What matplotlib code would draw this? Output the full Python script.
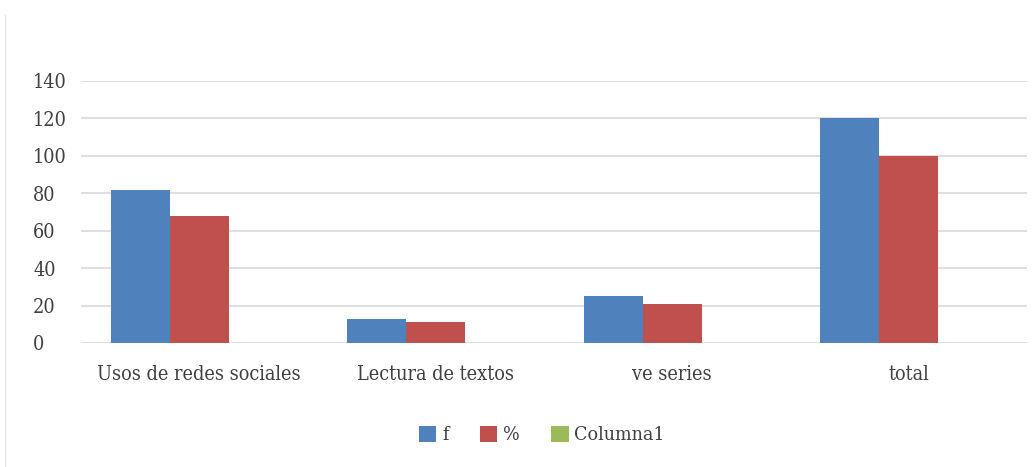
import numpy as np
import matplotlib
matplotlib.use('Agg')
import matplotlib.pyplot as plt
from matplotlib.lines import Line2D

categories = ['Usos de redes sociales', 'Lectura de textos', 've series', 'total']
f_values = [82, 13, 25, 120]
pct_values = [68, 11, 21, 100]
col1_values = [0, 0, 0, 0]
series_names = ['f', '%', 'Columna1']
colors = ['#4F81BD', '#C0504D', '#9BBB59']
yticks = [0, 20, 40, 60, 80, 100, 120, 140]

plt.rcParams['font.family'] = 'DejaVu Serif'

fig = plt.figure(figsize=(10.36, 4.67), dpi=100)
ax = fig.add_axes([81 / 1036, 1 - 343 / 467, (1027 - 81) / 1036, (343 - 81) / 467])

x = np.arange(len(categories))
width = 0.25
for k, vals in enumerate([f_values, pct_values, col1_values]):
    ax.bar(x + (k - 1) * width, vals, width, color=colors[k], label=series_names[k],
           zorder=3)

ax.set_xlim(-0.5, len(categories) - 0.5)
ax.set_ylim(0, 140)
ax.set_yticks(yticks)
ax.set_xticks(x)
ax.set_xticklabels(categories, fontsize=14.2, color='#404040', fontstretch='condensed')
ax.set_yticklabels([str(t) for t in yticks], fontsize=14.2, color='#404040',
                   fontstretch='condensed', ha='left')
ax.tick_params(axis='x', length=0, pad=16)
ax.tick_params(axis='y', length=0, pad=34.5)
ax.grid(axis='y', color='#D9D9D9', linewidth=1.2, zorder=0)
for s in ax.spines.values():
    s.set_visible(False)

leg = fig.legend(loc='center', bbox_to_anchor=(542 / 1036, 1 - 435 / 467), ncol=3,
                 frameon=False, handlelength=0.9, handleheight=0.9, handletextpad=0.3,
                 columnspacing=1.6, prop=dict(size=14, stretch='condensed'))
for t in leg.get_texts():
    t.set_color('#404040')

fig.add_artist(Line2D([5 / 1036, 5 / 1036], [0, 1 - 15 / 467], color='#E6E6E6', linewidth=1))

fig.savefig('out.png', dpi=100, facecolor='white')
